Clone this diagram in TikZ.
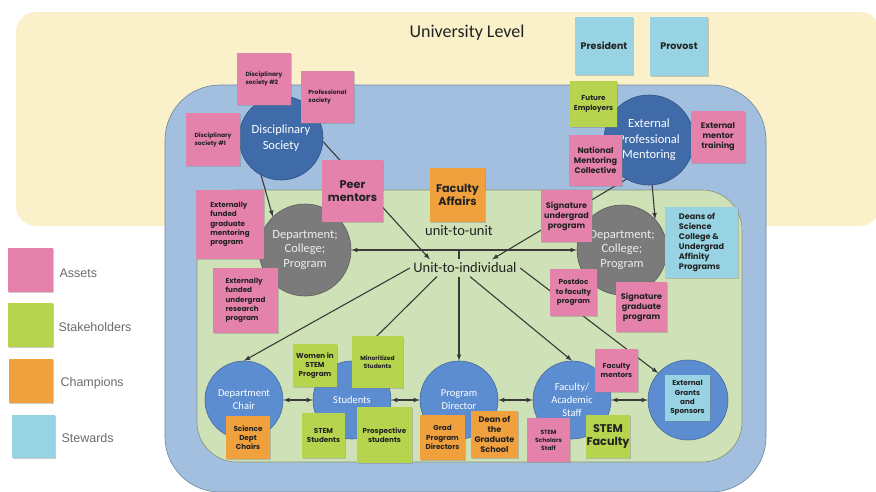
\documentclass[tikz,border=0pt]{standalone}
\usepackage{fontspec}
\setmainfont{Carlito}
\newfontfamily\notefont{Poppins}
\newfontfamily\legendfont{Liberation Sans}
\usepackage{tikz}
\usetikzlibrary{calc}
\usetikzlibrary{arrows,shapes,positioning,shadows}

\definecolor{univyellow}{HTML}{FAF0C9}
\definecolor{orgblue}{HTML}{A2BFDF}
\definecolor{unitgreen}{HTML}{CFE1B6}
\definecolor{darkhub}{HTML}{3F6BA9}
\definecolor{rolecolor}{HTML}{5C8DD1}
\definecolor{depgray}{HTML}{7B7B7B}
\definecolor{assetpink}{HTML}{E582AC}
\definecolor{stakegreen}{HTML}{B7D44F}
\definecolor{champorange}{HTML}{F0A13D}
\definecolor{stewardcyan}{HTML}{97D3E3}
\definecolor{ink}{HTML}{222222}
\definecolor{linkgray}{HTML}{3A3A3A}

\begin{document}
\begin{tikzpicture}[x=1pt,y=-1pt,
  hub/.style={circle,draw=#1!75!black,line width=.6pt,fill=#1,text=white,align=center,inner sep=0pt},
  bighub/.style={hub=darkhub,minimum size=#1,font=\fontsize{12.5}{15.5}\selectfont},
  depthub/.style={hub=depgray,minimum size=#1,font=\fontsize{12.5}{14.5}\selectfont,text=white!93!black},
  rolehub/.style={hub=rolecolor,minimum size=#1,font=\fontsize{10.5}{13}\selectfont},
  note/.style 2 args={rectangle,inner sep=1pt,text=ink,align=center,minimum width=#1,minimum height=#2,
    drop shadow={shadow xshift=.7pt,shadow yshift=-1.3pt,opacity=.4}},
  asset/.style 2 args={note={#1}{#2},fill=assetpink},
  stake/.style 2 args={note={#1}{#2},fill=stakegreen},
  champ/.style 2 args={note={#1}{#2},fill=champorange},
  steward/.style 2 args={note={#1}{#2},fill=stewardcyan},
  f5/.style={font=\notefont\bfseries\fontsize{6}{7.9}\selectfont},
  f6/.style={font=\notefont\bfseries\fontsize{7.2}{9.2}\selectfont},
  f7/.style={font=\notefont\bfseries\fontsize{8.1}{10}\selectfont},
  f8/.style={font=\notefont\bfseries\fontsize{9.5}{11.5}\selectfont},
  f10/.style={font=\notefont\bfseries\fontsize{11.2}{13}\selectfont},
  link/.style={draw=linkgray,line width=1.1pt,-latex},
  twoway/.style={link,latex-latex},
  legendtext/.style={anchor=west,text=black!58,font=\legendfont\fontsize{12.5}{14}\selectfont}
]
\useasboundingbox (0,0) rectangle (876,491);
\fill[univyellow,rounded corners=20] (16,12) rectangle (880,226);
\filldraw[fill=orgblue,draw=orgblue!70!black,line width=.6pt,rounded corners=55] (165,85) rectangle (766,492);
\filldraw[fill=unitgreen,draw=unitgreen!65!black,line width=.6pt,rounded corners=40] (197,190) rectangle (742,462);

\node[bighub=84] (disc) at (281,138) {Disciplinary\\Society};
\node[bighub=90] (extpm) at (649,140) {External\\Professional\\Mentoring};
\node[depthub=92] (deptL) at (305,250) {Department;\\College;\\Program};
\node[depthub=90] (deptR) at (622,250) {Department;\\College;\\Program};
\node[rolehub=78] (chair) at (244,400) {Department\\Chair};
\node[rolehub=78] (stud) at (352,400) {Students};
\node[rolehub=78] (pdir) at (459,400) {Program\\Director};
\node[rolehub=78] (fac) at (572,400) {Faculty/\\Academic\\Staff};
\node[rolehub=80] (grants) at (688,400) {};

\node[font=\fontsize{18}{20}\selectfont,text=ink] (univ) at (467,33) {University Level};
\node[font=\fontsize{14.5}{16}\selectfont,text=ink] (u2u) at (459,231) {unit-to-unit};
\node[font=\fontsize{14.5}{16}\selectfont,text=ink] (u2i) at (465,268) {Unit-to-individual};

\draw[link] (disc.-118) -- (deptL.134);
\draw[link] (disc.-5) -- ([xshift=20pt]u2i.north west);
\draw[link] (extpm.-120) -- ([xshift=27pt]u2i.north);
\draw[link] (extpm.-86) -- (deptR.43);
\draw[twoway] (deptL.east) -- (deptR.west);
\coordinate (tick) at (459,250);
\draw[linkgray,line width=1.1pt] (tick) -- (tick |- u2i.north);
\draw[link] (u2i.west) -- (chair.north);
\draw[link] ([xshift=27pt]u2i.south west) -- (stud.north);
\draw[link] (pdir.north |- u2i.south) -- (pdir.north);
\draw[link] ([xshift=5pt]u2i.south) -- (fac.north);
\draw[link] (u2i.east) -- (grants.138);
\draw[twoway] (chair) -- (stud);
\draw[twoway] (stud) -- (pdir);
\draw[twoway] (pdir) -- (fac);
\draw[twoway] (fac) -- (grants);

\node[asset={54}{52},f5,align=left] (ds2) at (264,79) {Disciplinary\\society \#2};
\node[asset={53}{52},f5,align=left] (prof) at (327.5,97) {Professional\\society};
\node[asset={54}{53},f5,align=left] (ds1) at (213,139.5) {Disciplinary\\society \#1};
\node[asset={61}{62},f10] (peer) at (352.5,191) {Peer\\mentors};
\node[asset={68}{69},f6,align=left] (egm) at (230,224.5) {Externally\\funded\\graduate\\mentoring\\program};
\node[asset={65}{65},f6,align=left] (eur) at (245.5,300.5) {Externally\\funded\\undergrad\\research\\program};
\node[steward={58}{58},f8] (pres) at (604,46) {President};
\node[steward={58}{59},f8] (prov) at (679,46.5) {Provost};
\node[stake={47}{46},f6] (future) at (593.5,104) {Future\\Employers};
\node[asset={53}{51},f7] (nmc) at (595.5,160.5) {National\\Mentoring\\Collective};
\node[champ={55}{54},f10] (facaff) at (457.5,195) {Faculty\\Affairs};
\node[asset={51}{52},f7] (sigug) at (566.5,216) {Signature\\undergrad\\program};
\node[asset={54}{52},f7] (emt) at (718,137) {External\\mentor\\training};
\node[steward={73}{71},f7,align=left] (deans) at (701.5,242.5) {Deans of\\Science\\College \&\\Undergrad\\Affinity\\Programs};
\node[asset={47}{47},f6] (postdoc) at (573.5,292.5) {Postdoc\\to faculty\\program};
\node[asset={51}{50},f7] (siggr) at (641.5,307) {Signature\\graduate\\program};
\node[asset={43}{43},f6] (facm) at (616.5,370.5) {Faculty\\mentors};
\node[steward={45}{46},f6] (egs) at (687.5,398) {External\\Grants\\and\\Sponsors};
\node[stake={42}{43},f10] (stemf) at (608,436.5) {STEM\\Faculty};
\node[asset={43}{44},f5] (sss) at (548.5,440) {STEM\\Scholars\\Staff};
\node[champ={47}{47},f7] (dgs) at (494.5,434.5) {Dean of\\the\\Graduate\\School};
\node[stake={44}{43},f6] (wis) at (315,365.5) {Women in\\STEM\\Program};
\node[stake={51}{52},f5] (mino) at (377.5,362) {Minoritized\\Students};
\node[champ={44}{43},f6] (sdc) at (248,437.5) {Science\\Dept\\Chairs};
\node[stake={43}{45},f6] (stems) at (323.5,435.5) {STEM\\Students};
\node[stake={55}{56},f6] (pros) at (384.5,435) {Prospective\\students};
\node[champ={45}{45},f6] (gpd) at (442.5,437.5) {Grad\\Program\\Directors};

\node[asset={45}{44}] (legA) at (30.5,270) {};
\node[legendtext] (legAt) at (56,273) {Assets};
\node[stake={45}{44}] (legS) at (30.5,325) {};
\node[legendtext] (legSt) at (55,327) {Stakeholders};
\node[champ={44}{44}] (legC) at (31,381) {};
\node[legendtext] (legCt) at (57,383) {Champions};
\node[steward={43}{43}] (legW) at (33.5,436.5) {};
\node[legendtext] (legWt) at (58,438) {Stewards};
\end{tikzpicture}
\end{document}
